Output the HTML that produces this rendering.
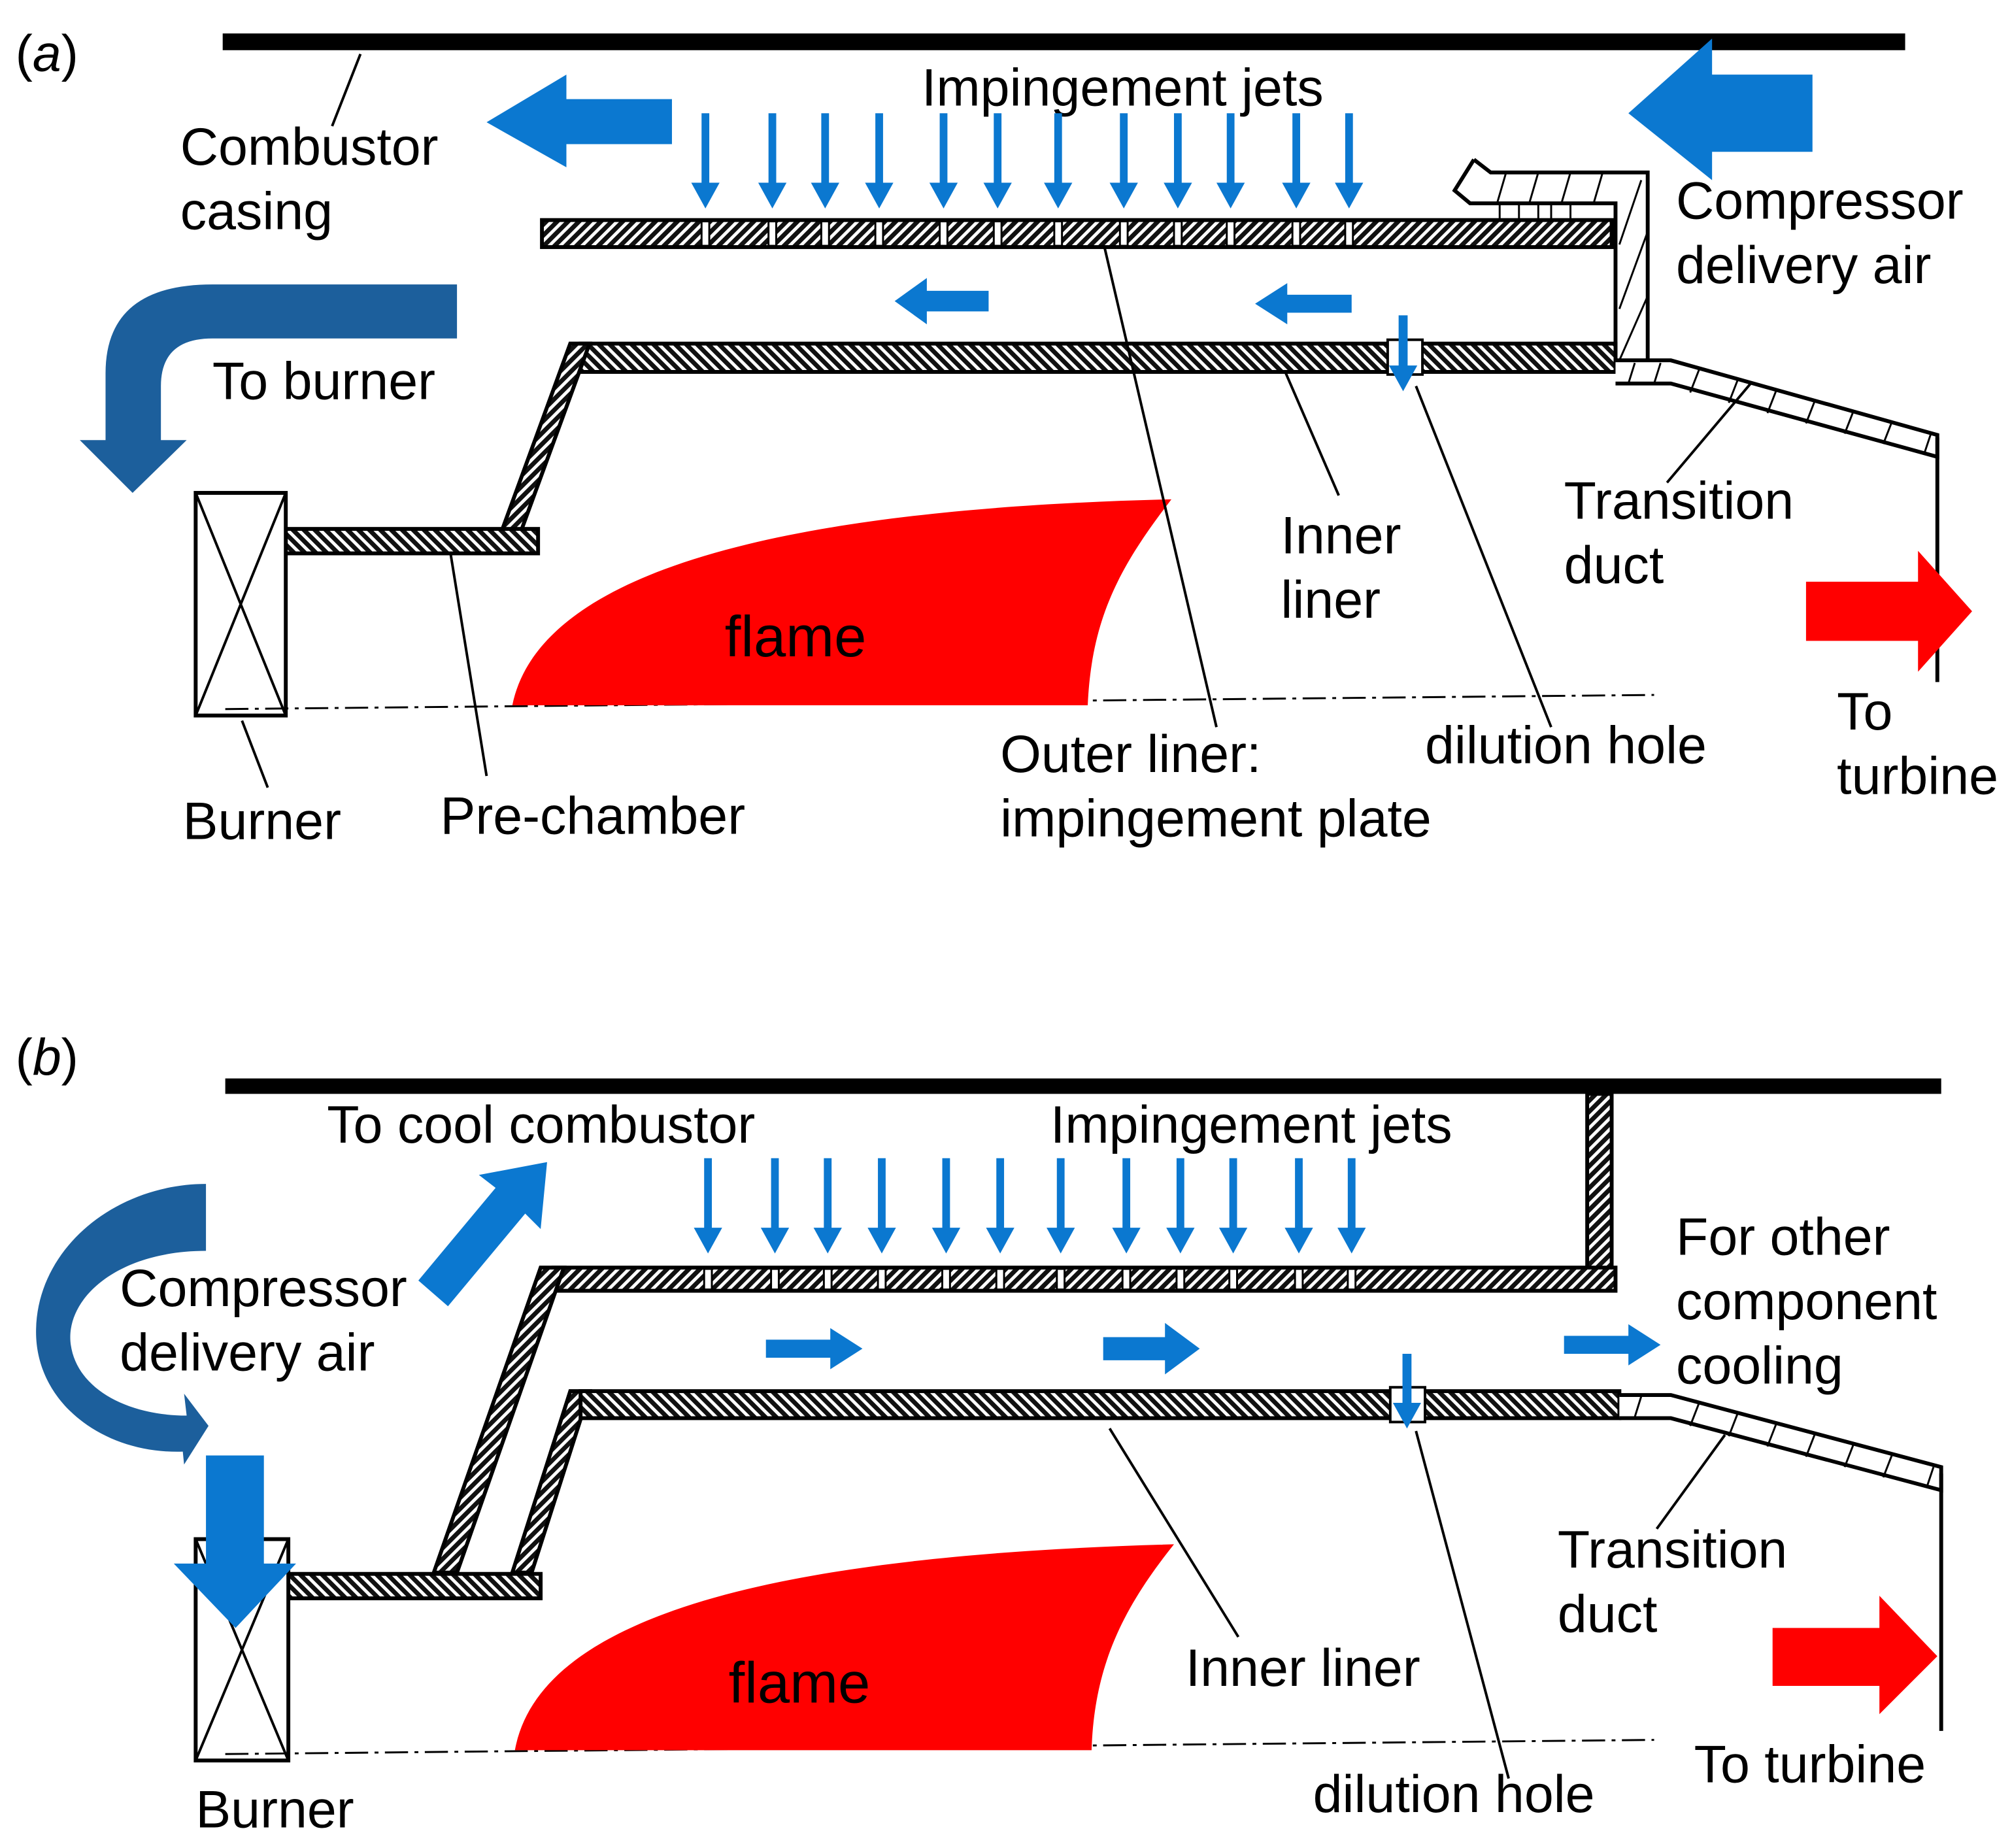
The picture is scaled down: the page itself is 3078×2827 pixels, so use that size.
<!DOCTYPE html>
<html><head><meta charset="utf-8"><style>
html,body{margin:0;padding:0;background:#fff}
svg{display:block}
text{font-family:"Liberation Sans",Arial,sans-serif;fill:#000}
</style></head><body>
<svg width="3078" height="2827" viewBox="0 0 1563 1436" preserveAspectRatio="none" xmlns="http://www.w3.org/2000/svg">
<defs>
<pattern id="h" patternUnits="userSpaceOnUse" width="6" height="6" patternTransform="rotate(45)">
<rect width="6" height="6" fill="#fff"/><rect width="3.5" height="6" fill="#111"/></pattern>
<pattern id="h2" patternUnits="userSpaceOnUse" width="6" height="6" patternTransform="rotate(-45)">
<rect width="6" height="6" fill="#fff"/><rect width="3.5" height="6" fill="#111"/></pattern>
<marker id="jh" markerUnits="userSpaceOnUse" markerWidth="26" markerHeight="26" refX="8" refY="13" orient="auto">
<polygon points="0,2 20,13 0,24" fill="#0b78d0"/></marker>
</defs>

<!-- ================= (a) ================= -->
<text x="12" y="55" font-size="40">(<tspan font-style="italic">a</tspan>)</text>
<rect x="173" y="26" width="1307" height="13" fill="#000"/>
<line x1="280" y1="42" x2="258" y2="98" stroke="#000" stroke-width="2"/>
<text x="140" y="128" font-size="41">Combustor</text>
<text x="140" y="178" font-size="41">casing</text>
<polygon points="522,77 440,77 440,58 378,95 440,130 440,112 522,112" fill="#0b78d0"/>
<text x="716" y="82" font-size="41">Impingement jets</text>
<g stroke="#0b78d0" stroke-width="6" marker-end="url(#jh)">
<line x1="548" y1="88" x2="548" y2="150"/><line x1="600" y1="88" x2="600" y2="150"/><line x1="641" y1="88" x2="641" y2="150"/><line x1="683" y1="88" x2="683" y2="150"/><line x1="733" y1="88" x2="733" y2="150"/><line x1="775" y1="88" x2="775" y2="150"/><line x1="822" y1="88" x2="822" y2="150"/><line x1="873" y1="88" x2="873" y2="150"/><line x1="915" y1="88" x2="915" y2="150"/><line x1="956" y1="88" x2="956" y2="150"/><line x1="1007" y1="88" x2="1007" y2="150"/><line x1="1048" y1="88" x2="1048" y2="150"/>
</g>
<rect x="421" y="171" width="831" height="21" fill="url(#h)" stroke="#000" stroke-width="3"/>
<g fill="#fff" stroke="#000" stroke-width="1.5">
<rect x="545" y="172" width="6" height="19"/><rect x="597" y="172" width="6" height="19"/><rect x="638" y="172" width="6" height="19"/><rect x="680" y="172" width="6" height="19"/><rect x="730" y="172" width="6" height="19"/><rect x="772" y="172" width="6" height="19"/><rect x="819" y="172" width="6" height="19"/><rect x="870" y="172" width="6" height="19"/><rect x="912" y="172" width="6" height="19"/><rect x="953" y="172" width="6" height="19"/><rect x="1004" y="172" width="6" height="19"/><rect x="1045" y="172" width="6" height="19"/>
</g>
<path d="M1145,124 L1158,134 L1280,134 L1280,283 L1300,283 M1145,124 L1130,148 L1142,158 L1255,158 L1255,290" fill="none" stroke="#000" stroke-width="3"/>
<g stroke="#000" stroke-width="1.5">
<line x1="1170" y1="134" x2="1163" y2="158"/><line x1="1195" y1="134" x2="1188" y2="158"/><line x1="1220" y1="134" x2="1213" y2="158"/><line x1="1245" y1="134" x2="1238" y2="158"/><line x1="1275" y1="140" x2="1258" y2="190"/><line x1="1280" y1="180" x2="1258" y2="240"/><line x1="1280" y1="230" x2="1258" y2="280"/>
<line x1="1165" y1="158" x2="1165" y2="171"/><line x1="1180" y1="158" x2="1180" y2="171"/><line x1="1195" y1="158" x2="1195" y2="171"/><line x1="1205" y1="158" x2="1205" y2="171"/><line x1="1220" y1="158" x2="1220" y2="171"/>
</g>
<polygon points="1408,58 1330,58 1330,30 1265,88 1330,140 1330,118 1408,118" fill="#0b78d0"/>
<text x="1302" y="170" font-size="41">Compressor</text>
<text x="1302" y="220" font-size="41">delivery air</text>
<polygon points="768,226 720,226 720,216 695,234 720,252 720,242 768,242" fill="#0b78d0"/>
<polygon points="1050,229 1000,229 1000,220 975,236 1000,252 1000,243 1050,243" fill="#0b78d0"/>
<rect x="451" y="267" width="804" height="22" fill="url(#h2)" stroke="#000" stroke-width="3"/>
<rect x="1078" y="264" width="27" height="27" fill="#fff" stroke="#000" stroke-width="2"/>
<line x1="1090" y1="245" x2="1090" y2="292" stroke="#0b78d0" stroke-width="7" marker-end="url(#jh)"/>
<path d="M1255,298 L1298,298 L1505,355 L1505,338 L1298,280 L1255,280" fill="#fff" stroke="#000" stroke-width="3"/>
<g stroke="#000" stroke-width="1.5"><line x1="1270" y1="282" x2="1265" y2="298"/><line x1="1290" y1="282" x2="1285" y2="298"/><line x1="1320" y1="287" x2="1313" y2="305"/><line x1="1350" y1="295" x2="1343" y2="313"/><line x1="1380" y1="303" x2="1373" y2="321"/><line x1="1410" y1="311" x2="1403" y2="329"/><line x1="1440" y1="319" x2="1433" y2="337"/><line x1="1470" y1="327" x2="1463" y2="345"/><line x1="1500" y1="337" x2="1495" y2="352"/></g>
<line x1="1505" y1="340" x2="1505" y2="530" stroke="#000" stroke-width="3"/>
<polygon points="443,267 458,267 405,412 390,412" fill="url(#h)" stroke="#000" stroke-width="3"/>
<rect x="222" y="411" width="196" height="19" fill="url(#h2)" stroke="#000" stroke-width="3"/>
<rect x="152" y="383" width="70" height="173" fill="#fff" stroke="#000" stroke-width="3"/>
<path d="M152,383 L222,556 M222,383 L152,556" stroke="#000" stroke-width="2"/>
<line x1="175" y1="551" x2="1285" y2="540" stroke="#000" stroke-width="1.5" stroke-dasharray="18,5,3,5"/>
<path d="M398,548 C420,440 620,395 910,388 C870,440 848,480 845,548 Z" fill="#ff0000"/>
<text x="563" y="510" font-size="45">flame</text>
<g stroke="#000" stroke-width="2">
<line x1="188" y1="560" x2="208" y2="612"/><line x1="350" y1="430" x2="378" y2="603"/><line x1="858" y1="192" x2="945" y2="565"/><line x1="998" y1="288" x2="1040" y2="385"/><line x1="1100" y1="300" x2="1205" y2="565"/><line x1="1360" y1="298" x2="1295" y2="375"/></g>
<text x="142" y="652" font-size="41">Burner</text>
<text x="342" y="648" font-size="41">Pre-chamber</text>
<text x="777" y="600" font-size="41">Outer liner:</text>
<text x="777" y="650" font-size="41">impingement plate</text>
<text x="995" y="430" font-size="41">Inner</text>
<text x="995" y="480" font-size="41">liner</text>
<text x="1107" y="593" font-size="41">dilution hole</text>
<text x="1215" y="403" font-size="41">Transition</text>
<text x="1215" y="453" font-size="41">duct</text>
<path d="M355,221 L355,263 L165,263 Q125,263 125,300 L125,342 L145,342 L103,383 L62,342 L82,342 L82,290 Q82,221 165,221 Z" fill="#1c5f9c"/>
<text x="165" y="310" font-size="41">To burner</text>
<polygon points="1403,452 1490,452 1490,428 1532,475 1490,522 1490,498 1403,498" fill="#ff0000"/>
<text x="1427" y="567" font-size="41">To</text>
<text x="1427" y="617" font-size="41">turbine</text>

<!-- ================= (b) ================= -->
<text x="12" y="835" font-size="40">(<tspan font-style="italic">b</tspan>)</text>
<rect x="175" y="838" width="1333" height="12" fill="#000"/>
<rect x="1233" y="850" width="19" height="150" fill="url(#h)" stroke="#000" stroke-width="3"/>
<text x="254" y="888" font-size="41">To cool combustor</text>
<text x="816" y="888" font-size="41">Impingement jets</text>
<g stroke="#0b78d0" stroke-width="6" marker-end="url(#jh)">
<line x1="550" y1="900" x2="550" y2="962"/><line x1="602" y1="900" x2="602" y2="962"/><line x1="643" y1="900" x2="643" y2="962"/><line x1="685" y1="900" x2="685" y2="962"/><line x1="735" y1="900" x2="735" y2="962"/><line x1="777" y1="900" x2="777" y2="962"/><line x1="824" y1="900" x2="824" y2="962"/><line x1="875" y1="900" x2="875" y2="962"/><line x1="917" y1="900" x2="917" y2="962"/><line x1="958" y1="900" x2="958" y2="962"/><line x1="1009" y1="900" x2="1009" y2="962"/><line x1="1050" y1="900" x2="1050" y2="962"/>
</g>
<rect x="430" y="985" width="825" height="18" fill="url(#h)" stroke="#000" stroke-width="3"/>
<g fill="#fff" stroke="#000" stroke-width="1.5">
<rect x="547" y="986" width="6" height="16"/><rect x="599" y="986" width="6" height="16"/><rect x="640" y="986" width="6" height="16"/><rect x="682" y="986" width="6" height="16"/><rect x="732" y="986" width="6" height="16"/><rect x="774" y="986" width="6" height="16"/><rect x="821" y="986" width="6" height="16"/><rect x="872" y="986" width="6" height="16"/><rect x="914" y="986" width="6" height="16"/><rect x="955" y="986" width="6" height="16"/><rect x="1006" y="986" width="6" height="16"/><rect x="1047" y="986" width="6" height="16"/>
</g>
<polygon points="420,985 438,985 355,1222 337,1222" fill="url(#h)" stroke="#000" stroke-width="3"/>
<polygon points="443,1081 458,1081 413,1222 398,1222" fill="url(#h)" stroke="#000" stroke-width="3"/>
<rect x="451" y="1081" width="807" height="21" fill="url(#h2)" stroke="#000" stroke-width="3"/>
<rect x="1080" y="1078" width="27" height="27" fill="#fff" stroke="#000" stroke-width="2"/>
<line x1="1093" y1="1052" x2="1093" y2="1098" stroke="#0b78d0" stroke-width="7" marker-end="url(#jh)"/>
<rect x="222" y="1223" width="198" height="19" fill="url(#h2)" stroke="#000" stroke-width="3"/>
<polygon points="595,1041 645,1041 645,1032 670,1048 645,1064 645,1055 595,1055" fill="#0b78d0"/>
<polygon points="857,1039 905,1039 905,1028 932,1048 905,1068 905,1057 857,1057" fill="#0b78d0"/>
<polygon points="1215,1038 1265,1038 1265,1029 1290,1045 1265,1061 1265,1052 1215,1052" fill="#0b78d0"/>
<text x="1302" y="975" font-size="41">For other</text>
<text x="1302" y="1025" font-size="41">component</text>
<text x="1302" y="1075" font-size="41">cooling</text>
<path d="M1258,1102 L1298,1102 L1508,1158 L1508,1140 L1298,1084 L1258,1084" fill="#fff" stroke="#000" stroke-width="3"/>
<g stroke="#000" stroke-width="1.5"><line x1="1275" y1="1085" x2="1270" y2="1101"/><line x1="1320" y1="1090" x2="1313" y2="1108"/><line x1="1350" y1="1098" x2="1343" y2="1116"/><line x1="1380" y1="1106" x2="1373" y2="1124"/><line x1="1410" y1="1114" x2="1403" y2="1132"/><line x1="1440" y1="1122" x2="1433" y2="1140"/><line x1="1470" y1="1130" x2="1463" y2="1148"/><line x1="1502" y1="1140" x2="1497" y2="1155"/></g>
<line x1="1508" y1="1145" x2="1508" y2="1345" stroke="#000" stroke-width="3"/>
<line x1="1340" y1="1115" x2="1287" y2="1188" stroke="#000" stroke-width="2"/>
<text x="1210" y="1218" font-size="41">Transition</text>
<text x="1210" y="1268" font-size="41">duct</text>
<polygon points="1377,1265 1460,1265 1460,1240 1505,1287 1460,1332 1460,1310 1377,1310" fill="#ff0000"/>
<text x="1316" y="1385" font-size="41">To turbine</text>
<rect x="152" y="1196" width="72" height="172" fill="#fff" stroke="#000" stroke-width="3"/>
<path d="M152,1196 L224,1368 M224,1196 L152,1368" stroke="#000" stroke-width="2"/>
<line x1="175" y1="1363" x2="1285" y2="1352" stroke="#000" stroke-width="1.5" stroke-dasharray="18,5,3,5"/>
<path d="M400,1360 C420,1250 620,1208 912,1200 C872,1250 850,1295 848,1360 Z" fill="#ff0000"/>
<text x="566" y="1323" font-size="45">flame</text>
<g stroke="#000" stroke-width="2"><line x1="862" y1="1110" x2="962" y2="1272"/><line x1="1100" y1="1112" x2="1172" y2="1382"/></g>
<text x="921" y="1310" font-size="41">Inner liner</text>
<text x="1020" y="1408" font-size="41">dilution hole</text>
<text x="152" y="1420" font-size="41">Burner</text>
<polygon points="160,1131 205,1131 205,1215 230,1215 183,1265 135,1215 160,1215" fill="#0b78d0"/>
<path d="M160,920 L160,972 C90,972 50,1010 55,1045 C60,1080 100,1100 145,1100 L143,1083 L162,1108 L143,1138 L142,1128 C80,1130 28,1090 28,1035 C28,970 90,920 160,920 Z" fill="#1c5f9c"/>
<text x="93" y="1015" font-size="41">Compressor</text>
<text x="93" y="1065" font-size="41">delivery air</text>
<polygon points="325,995 385,923 372,913 425,903 420,955 408,943 348,1015" fill="#0b78d0"/>
</svg>
</body></html>
